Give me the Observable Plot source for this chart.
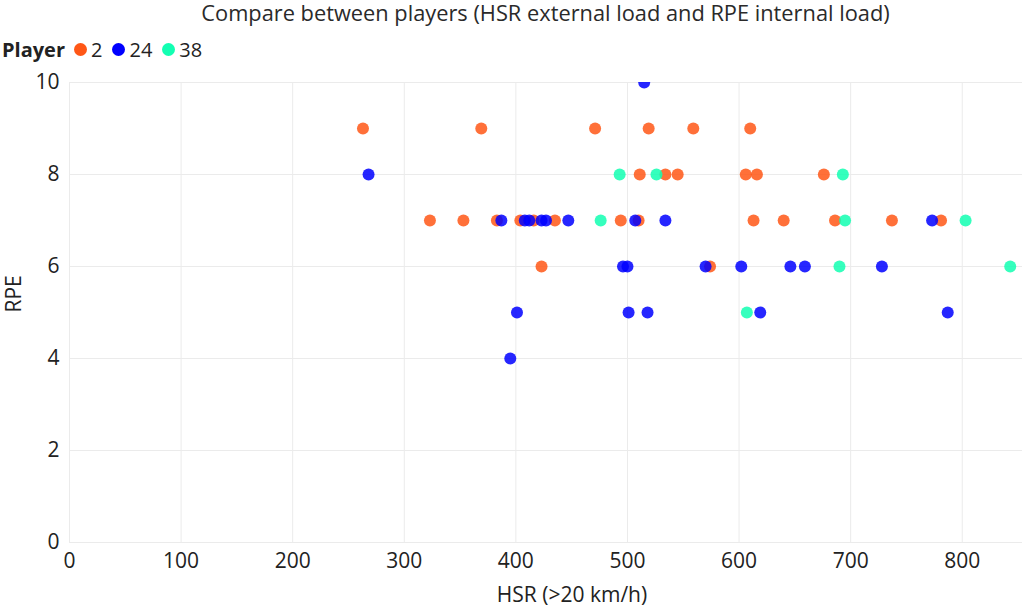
<!DOCTYPE html>
<html>
<head>
<meta charset="utf-8">
<script src="https://cdn.jsdelivr.net/npm/d3@7"></script>
<script src="https://cdn.jsdelivr.net/npm/@observablehq/plot@0.6"></script>
<style>
  html, body { margin: 0; padding: 0; background: #fff; }
  body { width: 1024px; height: 609px; overflow: hidden; position: relative; font-family: "Open Sans", "Noto Sans", sans-serif; color: #222; }
  #title { position: absolute; left: 69px; width: 953px; top: 0; height: 28px; line-height: 26px; text-align: center; font-size: 21.8px; color: #2a2a2a; white-space: nowrap; }
  #legend { position: absolute; left: 0; top: 28px; height: 42px; display: flex; align-items: center; font-size: 20px; padding-left: 2px; z-index: 2; }
  #legend .ttl { font-weight: 700; margin-right: 9px; }
  #legend .sw { width: 13px; height: 13px; border-radius: 50%; display: inline-block; margin-right: 4px; }
  #legend .it { display: flex; align-items: center; margin-right: 10px; }
  #chart { position: absolute; left: 0; top: 50px; }
  #chart svg text { font-size: 21px !important; }
</style>
</head>
<body>
<div id="title">Compare between players (HSR external load and RPE internal load)</div>
<div id="legend"></div>
<div id="chart"></div>
<script>
const players = ["2", "24", "38"];
const colors = ["#FF5716", "#0000FF", "#12FFB2"];

// Player 2
const hsr2 = [263, 369, 471, 519, 559, 610, 511, 534, 545, 606, 616, 676, 323, 353, 383, 404, 416, 435, 494, 510, 613, 640, 686, 737, 781, 423, 574];
const rpe2 = [9, 9, 9, 9, 9, 9, 8, 8, 8, 8, 8, 8, 7, 7, 7, 7, 7, 7, 7, 7, 7, 7, 7, 7, 7, 6, 6];
// Player 24
const hsr24 = [515, 268, 387, 408, 412, 423, 427, 447, 507, 534, 773, 496, 500, 570, 602, 646, 659, 728, 401, 501, 518, 619, 787, 395];
const rpe24 = [10, 8, 7, 7, 7, 7, 7, 7, 7, 7, 7, 6, 6, 6, 6, 6, 6, 6, 5, 5, 5, 5, 5, 4];
// Player 38
const hsr38 = [493, 526, 693, 476, 695, 803, 690, 843, 607];
const rpe38 = [8, 8, 8, 7, 7, 7, 6, 6, 5];

const xTicks = [0, 100, 200, 300, 400, 500, 600, 700, 800];
const yTicks = [0, 2, 4, 6, 8, 10];
const xLabel = "HSR (>20 km/h)";
const yLabel = "RPE";

const series = [[hsr2, rpe2], [hsr24, rpe24], [hsr38, rpe38]];
const data = [];
series.forEach(([xs, ys], i) => xs.forEach((x, j) => data.push({player: players[i], hsr: x, rpe: ys[j]})));

// legend
const leg = document.getElementById("legend");
leg.innerHTML = '<span class="ttl">Player</span>' + players.map((p, i) =>
  `<span class="it"><span class="sw" style="background:${colors[i]}"></span>${p}</span>`).join("");

const chart = Plot.plot({
  width: 1024,
  height: 559,
  marginLeft: 69,
  marginRight: 2,
  marginTop: 32,
  marginBottom: 67,
  style: {fontFamily: "'Open Sans', 'Noto Sans', sans-serif", fontSize: "21px", color: "#222", background: "transparent"},
  x: {domain: [0, 854], ticks: xTicks, label: null},
  y: {domain: [0, 10], ticks: yTicks, label: null},
  color: {domain: players, range: colors},
  marks: [
    Plot.gridX(xTicks, {stroke: "#ebebeb", strokeOpacity: 1}),
    Plot.gridY(yTicks, {stroke: "#ebebeb", strokeOpacity: 1}),
    Plot.axisX(xTicks, {tickSize: 0, tickPadding: 11, label: null}),
    Plot.axisY(yTicks, {tickSize: 0, tickPadding: 10, label: null}),
    Plot.text([xLabel], {text: d => d, frameAnchor: "bottom", dy: 53, dx: 26, lineAnchor: "middle", fill: "#222"}),
    Plot.text([yLabel], {text: d => d, frameAnchor: "left", dx: -55, rotate: -90, lineAnchor: "middle", fill: "#222"}),
    Plot.dot(data, {x: "hsr", y: "rpe", fill: "player", r: 6, fillOpacity: 0.85, clip: true})
  ]
});
document.getElementById("chart").appendChild(chart);
</script>
</body>
</html>
